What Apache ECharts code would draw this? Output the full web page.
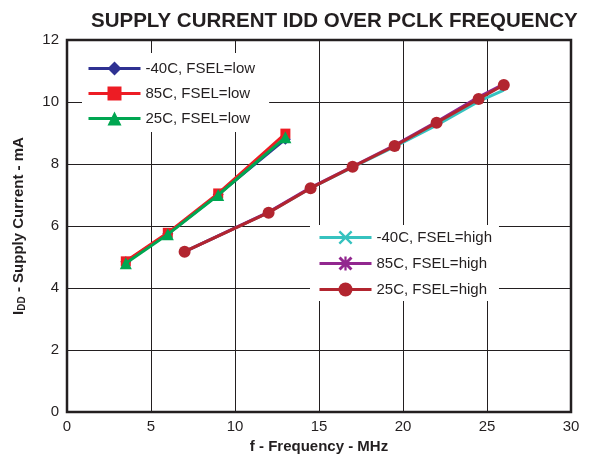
<!DOCTYPE html>
<html>
<head>
<meta charset="utf-8">
<script src="https://cdn.jsdelivr.net/npm/echarts@6/dist/echarts.min.js"></script>
<style>
html,body{margin:0;padding:0;background:#fff;}
#chart{width:590px;height:460px;}
</style>
</head>
<body>
<div id="chart"></div>
<script>
// Low FSEL series
const lowFreq = [3.5, 6, 9, 13];
const lowM40 = [4.85, 5.75, 7.02, 8.8];
const low85 = [4.86, 5.78, 7.05, 8.98];
const low25 = [4.8, 5.73, 7.0, 8.86];
// High FSEL series
const highFreq = [7, 12, 14.5, 17, 19.5, 22, 24.5, 26];
const highM40 = [5.17, 6.44, 7.22, 7.9, 8.56, 9.25, 10.02, 10.38];
const high85 = [5.17, 6.45, 7.24, 7.92, 8.6, 9.36, 10.16, 10.58];
const high25 = [5.17, 6.43, 7.22, 7.91, 8.58, 9.33, 10.1, 10.55];

const names = ['-40C, FSEL=low','85C, FSEL=low','25C, FSEL=low','-40C, FSEL=high','85C, FSEL=high','25C, FSEL=high'];
const colors = ['#2E3192','#ED1C24','#00A651','#36C2BF','#92278F','#B2252F'];

const xSym = 'path://M0,1.2 L1.2,0 L5,3.8 L8.8,0 L10,1.2 L6.2,5 L10,8.8 L8.8,10 L5,6.2 L1.2,10 L0,8.8 L3.8,5 Z';
const starSym = 'path://M0,1.5 L1.5,0 L5,3.5 L8.5,0 L10,1.5 L6.5,5 L10,8.5 L8.5,10 L5,6.5 L1.5,10 L0,8.5 L3.5,5 Z M4.2,0 L5.8,0 L5.8,10 L4.2,10 Z';
const symbols = ['diamond','rect','triangle',xSym,starSym,'circle'];
const symSizes = [11,10,12,10,10,12];
const showSyms = [true,true,true,false,false,true];

function pairs(xs, ys){ return xs.map((x,i)=>[x, ys[i]]); }
const dataSets = [pairs(lowFreq,lowM40),pairs(lowFreq,low85),pairs(lowFreq,low25),
                  pairs(highFreq,highM40),pairs(highFreq,high85),pairs(highFreq,high25)];

const series = dataSets.map((d,i)=>({
  name: names[i], type:'line', data:d,
  symbol: symbols[i], symbolSize: symSizes[i], showSymbol: showSyms[i],
  lineStyle:{color:colors[i], width:3},
  itemStyle:{color:colors[i], borderWidth:0},
  z: 2+i, animation:false
}));

const font = 'Arial, "Liberation Sans", sans-serif';
const legendText = {fontFamily:font, fontSize:15, color:'#231F20'};

const chart = echarts.init(document.getElementById('chart'), null, {renderer:'canvas'});
chart.setOption({
  backgroundColor:'#fff',
  animation:false,
  title:{text:'SUPPLY CURRENT IDD OVER PCLK FREQUENCY', left:86, top:6,
    textStyle:{fontFamily:font, fontSize:20.5, fontWeight:'bold', color:'#231F20'}},
  grid:{left:67, right:19, top:40, bottom:48, show:true, borderColor:'#231F20', borderWidth:2.5, z:10},
  legend:[
    {data:names.slice(0,3), orient:'vertical', left:82, top:53, itemWidth:52, itemHeight:17.5, itemGap:10,
     padding:[8,14,6,5], backgroundColor:'#fff', textStyle:legendText, lineStyle:{width:3}, z:5},
    {data:names.slice(3), orient:'vertical', left:310, top:225, itemWidth:52, itemHeight:17.5, itemGap:11,
     padding:[5,7,4,8], backgroundColor:'#fff', textStyle:legendText, lineStyle:{width:3}, z:5}
  ],
  xAxis:{type:'value', min:0, max:30, interval:5,
    name:'f - Frequency - MHz', nameLocation:'middle', nameGap:26,
    nameTextStyle:{fontFamily:font, fontSize:15, fontWeight:'bold', color:'#231F20'},
    axisLine:{show:false}, axisTick:{show:false},
    axisLabel:{margin:7, fontFamily:font, fontSize:15, color:'#231F20'},
    splitLine:{show:true, lineStyle:{color:'#231F20', width:1}}},
  yAxis:{type:'value', min:0, max:12, interval:2,
    name:'{a|I}{b|DD}{a| - Supply Current - mA}', nameLocation:'middle', nameGap:40,
    nameTextStyle:{fontFamily:font, fontWeight:'bold', color:'#231F20',
      rich:{a:{fontFamily:font, fontSize:15, fontWeight:'bold', color:'#231F20'},
            b:{fontFamily:font, fontSize:10, fontWeight:'bold', color:'#231F20', verticalAlign:'bottom', padding:[6,0,0,0]}}},
    axisLine:{show:false}, axisTick:{show:false},
    axisLabel:{margin:8, fontFamily:font, fontSize:15, color:'#231F20'},
    splitLine:{show:true, lineStyle:{color:'#231F20', width:1}}},
  series: series
});
</script>
</body>
</html>
